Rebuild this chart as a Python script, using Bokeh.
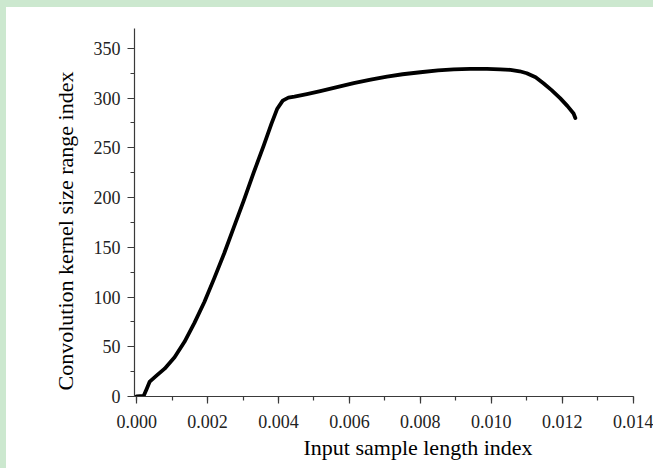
from bokeh.plotting import figure
from bokeh.layouts import column
from bokeh.models import SingleIntervalTicker, PrintfTickFormatter, Title, Range1d
from bokeh.embed import file_html
from bokeh.resources import INLINE

# Data
x_vals = [0.0, 0.0002, 0.00028, 0.00037, 0.00056, 0.00079, 0.00107, 0.00135, 0.00163,
          0.00191, 0.00219, 0.00247, 0.00274, 0.00302, 0.0033, 0.00358, 0.0038, 0.00396,
          0.00412, 0.00428, 0.00445, 0.0048, 0.00518, 0.00565, 0.00612, 0.0066, 0.00706,
          0.0075, 0.0080, 0.0085, 0.00894, 0.0094, 0.00988, 0.01025, 0.01054, 0.0108,
          0.0110, 0.01125, 0.01147, 0.0117, 0.01194, 0.01215, 0.01232, 0.01237]
y_vals = [0, 0.7, 7.4, 15, 21, 28, 39.5, 55, 74,
          95, 119, 144, 170, 197, 225, 252, 274, 289,
          297.5, 300.5, 301.5, 304, 307, 311, 315, 318.5, 321.6,
          324, 326, 327.8, 329, 329.4, 329.4, 329, 328.4, 327,
          325, 321, 315, 308, 300, 292, 284.5, 280]
x_title = "Input sample length index"
y_title = "Convolution kernel size range index"

FONT = "Liberation Serif"

p = figure(width=647, height=461, output_backend="svg", toolbar_location=None,
           x_range=Range1d(-0.00006, 0.01401), y_range=Range1d(0, 370),
           min_border_left=128, min_border_right=20, min_border_top=21,
           min_border_bottom=72, margin=(7, 0, 0, 6),
           styles={"background-color": "white"})
p.outline_line_color = None
p.background_fill_color = "white"
p.border_fill_color = "white"
p.xgrid.visible = False
p.ygrid.visible = False

p.line(x_vals, y_vals, line_color="black", line_width=3.8, line_join="round", line_cap="round")

xaxis = p.xaxis[0]
yaxis = p.yaxis[0]
xaxis.ticker = SingleIntervalTicker(interval=0.002, num_minor_ticks=2)
yaxis.ticker = SingleIntervalTicker(interval=50, num_minor_ticks=2)
xaxis.formatter = PrintfTickFormatter(format="%.3f")

for ax in (xaxis, yaxis):
    ax.axis_line_color = "#3a3a3a"
    ax.axis_line_width = 1.2
    ax.major_tick_line_color = "#3a3a3a"
    ax.minor_tick_line_color = "#3a3a3a"
    ax.major_tick_line_width = 1.2
    ax.minor_tick_line_width = 1.2
    ax.major_tick_in = 0
    ax.minor_tick_in = 0
    ax.major_tick_out = 7
    ax.minor_tick_out = 4
    ax.major_label_text_font = FONT
    ax.major_label_text_font_size = "18px"
    ax.major_label_text_color = "#222222"
xaxis.major_label_standoff = 11
yaxis.major_label_standoff = 7

xt = Title(text=x_title, align="left", offset=169, standoff=9, vertical_align="top",
           text_font=FONT, text_font_size="22px", text_font_style="normal",
           text_color="black")
yt = Title(text=y_title, align="left", offset=6, standoff=26, text_font=FONT,
           text_font_size="22px", text_font_style="normal", text_color="black")
p.add_layout(xt, "below")
p.add_layout(yt, "left")

page = column(p, styles={"background-color": "#cce8cf"})

open("out.html", "w").write(file_html(page, INLINE))
